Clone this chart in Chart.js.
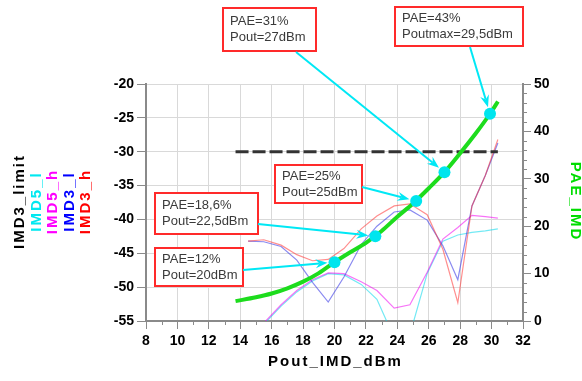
<!DOCTYPE html>
<html><head><meta charset="utf-8">
<script src="https://cdn.jsdelivr.net/npm/chart.js@4.4.1/dist/chart.umd.min.js"></script>
<style>html,body{margin:0;padding:0;background:#fff}canvas{display:block}</style>
</head><body>
<canvas id="c" width="582" height="381"></canvas>
<script>
// ---- data ----
const poutImd = [14.5, 15.5, 16.6, 17.6, 18.6, 19.6, 20.6, 21.7, 22.7, 23.8, 24.8, 25.9, 26.9, 27.85, 28.75, 29.6, 30.4];
const imd3h = [-43.2, -43.0, -43.8, -45.2, -46.1, -45.9, -44.3, -41.4, -39.5, -38.0, -37.7, -39.3, -44.4, -52.3, -38.0, -33.5, -28.2];
const imd3l = [-43.2, -43.3, -44.0, -46.0, -49.3, -52.2, -48.5, -43.7, -41.0, -38.9, -38.6, -40.1, -43.9, -48.9, -38.0, -33.5, -28.7];
const imd5h = [-59.5, -55.3, -52.6, -50.5, -48.9, -47.9, -48.0, -49.2, -50.5, -53.1, -52.6, -47.8, -42.9, -41.2, -39.4, -39.6, -39.8];
const imd5l = [-59.8, -55.5, -52.8, -50.7, -49.1, -48.0, -48.2, -49.6, -51.8, -57.5, -57.0, -48.0, -43.2, -42.3, -41.9, -41.7, -41.4];
const limitPout = [13.7, 30.4];
const imd3Limit = [-30, -30];
const poutPae = [13.7, 15, 16, 17, 18, 19, 20, 21, 22, 23, 24, 25, 26, 27, 28, 29, 30, 30.4];
const paeImd = [4.2, 5.0, 5.8, 6.9, 8.3, 10.1, 12.4, 14.5, 16.5, 19.0, 22.0, 24.8, 28.0, 31.4, 35.4, 39.6, 44.2, 46.3];
const markerPout = [20, 22.6, 25.2, 27, 29.9];
const markerPae = [12.4, 17.9, 25.3, 31.4, 43.7];
const noteLines = [
  ["PAE=12%", "Pout=20dBm"],
  ["PAE=18,6%", "Pout=22,5dBm"],
  ["PAE=25%", "Pout=25dBm"],
  ["PAE=31%", "Pout=27dBm"],
  ["PAE=43%", "Poutmax=29,5dBm"]
];
const xTickRange = [8, 32, 2];
const leftTickRange = [-55, -20, 5];
const rightTickRange = [0, 50, 10];
const leftTitles = ["IMD3_limit", "IMD5_l", "IMD5_h", "IMD3_l", "IMD3_h"];
const xTitle = "Pout_IMD_dBm";
const rightTitle = "PAE_IMD";

// ---- layout / style (not data) ----
const leftTitleColors = ["#000000", "#00e8f0", "#ff00ff", "#0000ff", "#ff0000"];
const leftTitleX = [20, 37, 53, 70, 86];
const noteBoxes = [
  {x:155, y:248, w:88,  h:38, ax:243, ay:270},
  {x:155, y:193, w:103, h:41, ax:258, ay:224},
  {x:275, y:165, w:87,  h:38, ax:362, ay:187},
  {x:223, y:8,   w:93,  h:43, ax:296, ay:52},
  {x:395, y:7,   w:128, h:39, ax:470, ay:47}
];
const AXIS = '#8a8a8a', GRID = '#d9d9d9';
const tickFont = {family:'"Liberation Sans", Arial, sans-serif', size:14, weight:'bold'};
const pts = (xs, ys) => xs.map((x, i) => ({x, y: ys[i]}));

const decor = {
  id: 'decor',
  afterDraw(chart) {
    const ctx = chart.ctx, xs = chart.scales.x, y2 = chart.scales.y2, a = chart.chartArea;
    ctx.save();
    // minor ticks
    ctx.strokeStyle = AXIS; ctx.lineWidth = 1;
    for (let v = xTickRange[0] + 1; v < xTickRange[1]; v += 2) {
      const px = Math.round(xs.getPixelForValue(v)) + 0.5;
      ctx.beginPath(); ctx.moveTo(px, a.bottom); ctx.lineTo(px, a.bottom + 4); ctx.stroke();
    }
    for (let v = rightTickRange[0] + 2; v < rightTickRange[1]; v += 2) {
      if (v % 10 === 0) continue;
      const py = Math.round(y2.getPixelForValue(v)) + 0.5;
      ctx.beginPath(); ctx.moveTo(a.right, py); ctx.lineTo(a.right + 4, py); ctx.stroke();
    }
    // titles
    ctx.font = 'bold 15px "Liberation Sans", Arial, sans-serif';
    try { ctx.letterSpacing = '2px'; } catch(e) {}
    ctx.textAlign = 'center'; ctx.textBaseline = 'middle';
    const cy = (a.top + a.bottom) / 2;
    leftTitles.forEach((t, i) => {
      ctx.save(); ctx.translate(leftTitleX[i], cy); ctx.rotate(-Math.PI / 2);
      ctx.fillStyle = leftTitleColors[i]; ctx.fillText(t, 1, 0); ctx.restore();
    });
    ctx.fillStyle = '#000';
    ctx.fillText(xTitle, (a.left + a.right) / 2 + 1, 362);
    ctx.save(); ctx.translate(575, cy - 2); ctx.rotate(Math.PI / 2);
    ctx.fillStyle = '#00dd00'; ctx.fillText(rightTitle, 1, 0); ctx.restore();
    try { ctx.letterSpacing = '0px'; } catch(e) {}
    // note boxes and arrows
    noteBoxes.forEach((b, i) => {
      ctx.fillStyle = '#fff'; ctx.fillRect(b.x, b.y, b.w, b.h);
      ctx.strokeStyle = '#ff2a2a'; ctx.lineWidth = 2; ctx.strokeRect(b.x, b.y, b.w, b.h);
      ctx.fillStyle = '#3a3a3a'; ctx.font = '13px "Liberation Sans", Arial, sans-serif';
      ctx.textAlign = 'left'; ctx.textBaseline = 'middle';
      ctx.fillText(noteLines[i][0], b.x + 7, b.y + b.h / 2 - 8);
      ctx.fillText(noteLines[i][1], b.x + 7, b.y + b.h / 2 + 8);
      const tx = xs.getPixelForValue(markerPout[i]), ty = y2.getPixelForValue(markerPae[i]);
      const dx = tx - b.ax, dy = ty - b.ay, L = Math.hypot(dx, dy), ux = dx / L, uy = dy / L;
      const ex = tx - ux * 7, ey = ty - uy * 7;
      ctx.strokeStyle = '#00e8f5'; ctx.fillStyle = '#00e8f5'; ctx.lineWidth = 2;
      ctx.beginPath(); ctx.moveTo(b.ax, b.ay); ctx.lineTo(ex - ux * 8, ey - uy * 8); ctx.stroke();
      ctx.beginPath(); ctx.moveTo(ex, ey);
      ctx.lineTo(ex - ux * 12 - uy * 4.5, ey - uy * 12 + ux * 4.5);
      ctx.lineTo(ex - ux * 8, ey - uy * 8);
      ctx.lineTo(ex - ux * 12 + uy * 4.5, ey - uy * 12 - ux * 4.5);
      ctx.closePath(); ctx.fill();
    });
    ctx.restore();
  }
};

const thin = (label, ys, color, order) => ({
  label, data: pts(poutImd, ys), borderColor: color, borderWidth: 1.2,
  pointRadius: 0, tension: 0, yAxisID: 'y', order
});

new Chart(document.getElementById('c'), {
  type: 'line',
  data: {
    datasets: [
      {label: 'markers', data: pts(markerPout, markerPae), yAxisID: 'y2', showLine: false,
       pointRadius: 6, pointBackgroundColor: '#00e5ee', pointBorderWidth: 0, order: 0},
      {label: rightTitle, data: pts(poutPae, paeImd), yAxisID: 'y2', borderColor: '#1ddc1d',
       borderWidth: 4, pointRadius: 0, tension: 0.4, cubicInterpolationMode: 'monotone', order: 1},
      {label: leftTitles[0], data: pts(limitPout, imd3Limit), yAxisID: 'y', borderColor: '#333',
       borderWidth: 3, borderDash: [13, 4], pointRadius: 0, order: 2},
      thin(leftTitles[1], imd5l, 'rgba(0,215,235,0.55)', 6),
      thin(leftTitles[2], imd5h, 'rgba(240,0,240,0.55)', 5),
      thin(leftTitles[3], imd3l, 'rgba(60,60,230,0.6)', 4),
      thin(leftTitles[4], imd3h, 'rgba(255,50,50,0.55)', 3)
    ]
  },
  options: {
    responsive: false, devicePixelRatio: 1, animation: false,
    layout: {padding: {top: 84, left: 0, right: 0, bottom: 0}},
    plugins: {legend: {display: false}, tooltip: {enabled: false}},
    scales: {
      x: {type: 'linear', min: xTickRange[0], max: xTickRange[1],
          ticks: {stepSize: xTickRange[2], font: tickFont, color: '#000', padding: 4, maxRotation: 0, autoSkip: false},
          grid: {color: GRID, tickColor: AXIS, tickLength: 8},
          border: {color: AXIS, width: 2},
          afterFit(s) { s.height = 60; }},
      y: {type: 'linear', position: 'left', min: leftTickRange[0], max: leftTickRange[1],
          ticks: {stepSize: leftTickRange[2], font: tickFont, color: '#000', padding: 3},
          grid: {color: GRID, tickColor: AXIS, tickLength: 9},
          border: {color: AXIS, width: 2},
          afterFit(s) { s.width = 146; }},
      y2: {type: 'linear', position: 'right', min: rightTickRange[0], max: rightTickRange[1],
          ticks: {stepSize: rightTickRange[2], font: tickFont, color: '#000', padding: 3},
          grid: {drawOnChartArea: false, tickColor: AXIS, tickLength: 8},
          border: {color: AXIS, width: 2},
          afterFit(s) { s.width = 59; }}
    }
  },
  plugins: [decor]
});
</script>
</body></html>
